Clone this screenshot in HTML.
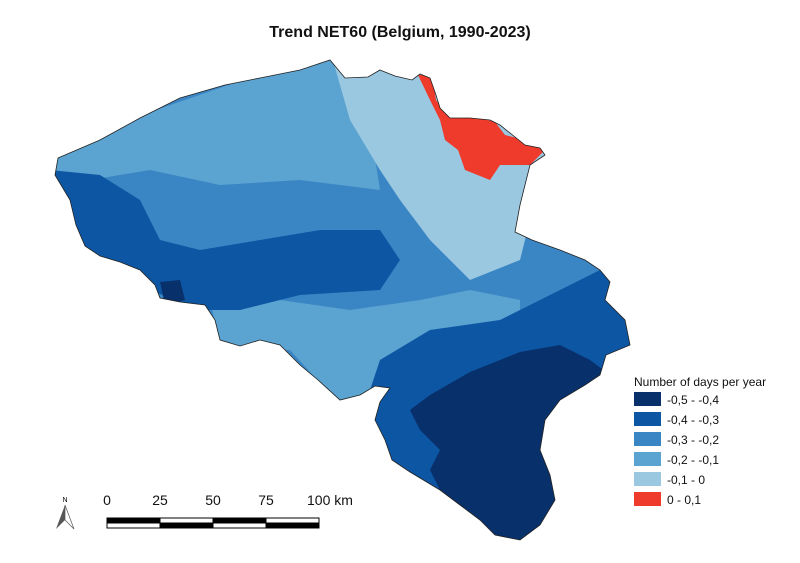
<!DOCTYPE html>
<html><head><style>
body{margin:0;background:#fff;}
svg{display:block;font-family:"Liberation Sans",sans-serif;}
</style></head><body>
<svg width="800" height="563" viewBox="0 0 800 563" xmlns="http://www.w3.org/2000/svg">
<rect width="800" height="563" fill="#fff"/>
<text x="400" y="37" text-anchor="middle" font-size="16" font-weight="bold" fill="#111">Trend NET60 (Belgium, 1990-2023)</text>
<defs>
<clipPath id="be"><path id="outline" d="M58,158 L100,140 L140,118 L180,98 L225,85 L260,78 L300,70 L330,60 L345,78 L368,77 L380,70 L395,76 L412,80 L420,74 L430,78 L436,95 L440,108 L450,118 L470,118 L490,120 L500,125 L525,145 L540,148 L545,155 L530,165 L525,185 L520,205 L515,232 L532,240 L560,250 L585,260 L600,270 L610,282 L605,300 L625,320 L630,345 L606,355 L600,375 L585,385 L560,400 L545,420 L540,450 L550,475 L555,500 L540,525 L520,540 L495,535 L480,520 L460,505 L440,490 L410,472 L392,460 L385,440 L375,420 L380,402 L390,388 L375,386 L360,395 L340,400 L318,380 L300,365 L290,355 L280,345 L260,340 L240,346 L220,340 L215,320 L205,305 L180,302 L160,298 L155,285 L140,270 L120,262 L100,256 L85,246 L76,225 L70,200 L55,175 Z"/></clipPath>
</defs>
<g clip-path="url(#be)">
<rect x="0" y="0" width="800" height="563" fill="#3a86c4"/>
<!-- north light-mid band -->
<path d="M40,150 L330,50 L360,60 L380,190 L300,180 L220,185 L150,170 L90,180 L40,170 Z" fill="#5ba3d0"/>
<!-- middle lighter zone -->
<path d="M210,300 L280,300 L350,310 L420,300 L470,290 L520,300 L520,330 L440,345 L400,350 L390,400 L340,405 L290,350 L220,345 Z" fill="#5ba3d0"/>
<!-- NE light -->
<path d="M330,50 L450,60 L550,140 L520,260 L470,280 L430,240 L400,200 L380,170 L350,120 Z" fill="#9ac8e0"/>
<!-- west dark -->
<path d="M50,170 L100,175 L140,200 L160,240 L200,250 L260,240 L320,230 L380,230 L400,260 L380,290 L300,295 L240,310 L200,310 L150,290 L100,260 L60,240 Z" fill="#0d56a3"/>
<!-- south dark -->
<path d="M380,360 L430,330 L500,320 L560,290 L600,270 L640,320 L640,560 L380,560 L360,420 Z" fill="#0d56a3"/>
<!-- SE navy -->
<path d="M430,395 L470,372 L520,352 L560,345 L590,360 L610,375 L570,400 L555,425 L550,455 L560,480 L560,560 L470,560 L440,490 L430,470 L440,450 L420,430 L410,410 Z" fill="#08306b"/>
<path d="M160,282 L180,280 L185,300 L165,305 Z" fill="#08306b"/>
<!-- red cluster -->
<path d="M418,75 L432,75 L436,100 L445,112 L460,118 L480,118 L495,122 L505,135 L525,140 L545,150 L530,165 L500,165 L490,180 L465,170 L458,150 L445,140 L440,120 L430,100 Z" fill="#ee3b2c"/>
</g>
<use href="#outline" fill="none" stroke="#222" stroke-width="0.8"/>
<!-- legend -->
<text x="634" y="386" font-size="12" fill="#111">Number of days per year</text>
<g font-size="12" fill="#111">
<rect x="634" y="392" width="27" height="14" fill="#08306b"/><text x="667" y="404">-0,5 - -0,4</text>
<rect x="634" y="412" width="27" height="14" fill="#0d56a3"/><text x="667" y="424">-0,4 - -0,3</text>
<rect x="634" y="432" width="27" height="14" fill="#3a86c4"/><text x="667" y="444">-0,3 - -0,2</text>
<rect x="634" y="452" width="27" height="14" fill="#5ba3d0"/><text x="667" y="464">-0,2 - -0,1</text>
<rect x="634" y="472" width="27" height="14" fill="#9ac8e0"/><text x="667" y="484">-0,1 - 0</text>
<rect x="634" y="492" width="27" height="14" fill="#ee3b2c"/><text x="667" y="504">0 - 0,1</text>
</g>
<!-- scale bar -->
<g font-size="14" fill="#111">
<text x="107" y="505" text-anchor="middle">0</text>
<text x="160" y="505" text-anchor="middle">25</text>
<text x="213" y="505" text-anchor="middle">50</text>
<text x="266" y="505" text-anchor="middle">75</text>
<text x="307" y="505">100 km</text>
</g>
<g stroke="#000" stroke-width="1">
<rect x="107" y="518" width="212" height="10" fill="#fff"/>
<rect x="107" y="518" width="53" height="5" fill="#000"/>
<rect x="160" y="523" width="53" height="5" fill="#000"/>
<rect x="213" y="518" width="53" height="5" fill="#000"/>
<rect x="266" y="523" width="53" height="5" fill="#000"/>
</g>
<!-- north arrow -->
<text x="65" y="502" font-size="7" text-anchor="middle">N</text>
<path d="M65,505 L56,529 L65,520 Z" fill="#555"/>
<path d="M65,505 L74,529 L65,520 Z" fill="#fff" stroke="#555" stroke-width="0.7"/>
</svg>
</body></html>
